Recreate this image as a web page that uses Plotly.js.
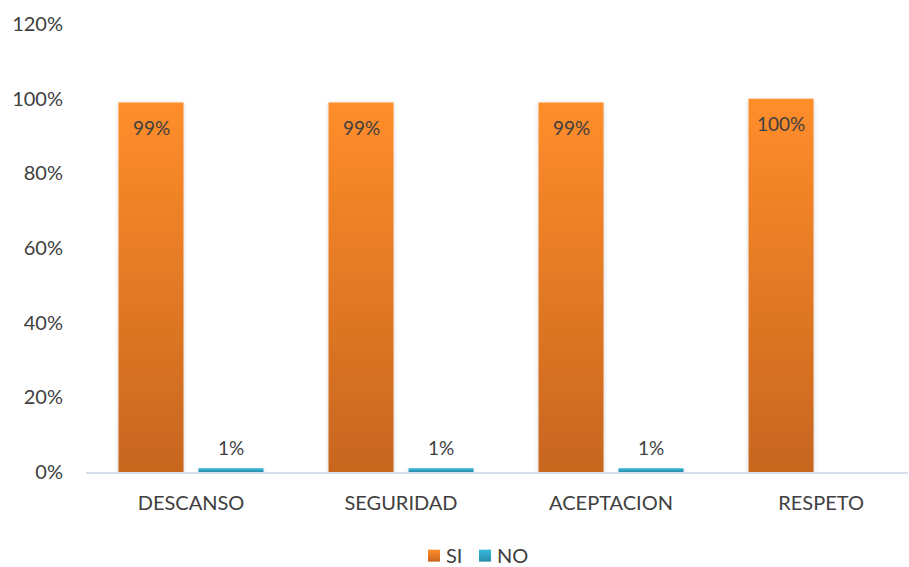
<!DOCTYPE html>
<html>
<head>
<meta charset="utf-8">
<script src="https://cdn.plot.ly/plotly-3.0.1.min.js"></script>
<style>body{margin:0;background:#fff;}#chart{width:909px;height:567px;}</style>
</head>
<body>
<div id="chart"></div>
<script>
const categories = ["DESCANSO", "SEGURIDAD", "ACEPTACION", "RESPETO"];
const siValues = [99, 99, 99, 100];
const noValues = [1, 1, 1, 0];
const siLabels = ["99%", "99%", "99%", "100%"];
const noLabels = ["1%", "1%", "1%", ""];
const yTicks = [0, 20, 40, 60, 80, 100, 120];
const yTickLabels = ["0%", "20%", "40%", "60%", "80%", "100%", "120%"];

const font = "Lato, 'Open Sans', sans-serif";
const textColor = "#404040";

const annotations = [];
categories.forEach((c, i) => {
  if (siLabels[i]) annotations.push({x: c, y: siValues[i], text: siLabels[i], showarrow: false,
    xshift: -40, yshift: -25, font: {family: font, size: 19, color: textColor}});
  if (noLabels[i]) annotations.push({x: c, y: noValues[i], text: noLabels[i], showarrow: false,
    xshift: 40, yshift: 21, font: {family: font, size: 19, color: textColor}});
});

const data = [
  {type: "bar", name: "SI", x: categories, y: siValues, marker: {color: "#E8791F"}, hoverinfo: "none"},
  {type: "bar", name: "NO", x: categories, y: noValues, marker: {color: "#2EA6C6"}, hoverinfo: "none"}
];

const layout = {
  width: 909, height: 567,
  margin: {l: 86, r: 1, t: 24, b: 95},
  paper_bgcolor: "#fff", plot_bgcolor: "#fff",
  barmode: "group", bargap: 0.238, bargroupgap: 0.1875,
  font: {family: font, color: textColor, size: 18},
  xaxis: {type: "category", range: [-0.5, 3.414], showline: true, linecolor: "#D6E0EC", linewidth: 2,
    showgrid: false, zeroline: false, ticks: "", ticklabelstandoff: 12, automargin: false,
    tickfont: {family: font, size: 20, color: textColor}},
  yaxis: {range: [0, 120], tickvals: yTicks, ticktext: yTickLabels, showgrid: false, zeroline: false,
    showline: false, ticks: "", ticklabelstandoff: 22, automargin: false,
    tickfont: {family: font, size: 20, color: textColor}},
  showlegend: true,
  legend: {orientation: "h", x: 0.5, xref: "container", xanchor: "center", y: 0.02, yref: "container", yanchor: "middle",
    font: {family: font, size: 20, color: textColor}, itemwidth: 30, tracegroupgap: 0},
  annotations: annotations
};

Plotly.newPlot("chart", data, layout, {staticPlot: true}).then(gd => {
  const svg = gd.querySelector(".main-svg");
  const ns = "http://www.w3.org/2000/svg";
  let defs = svg.querySelector("defs");
  if (!defs) { defs = document.createElementNS(ns, "defs"); svg.insertBefore(defs, svg.firstChild); }
  function grad(id, top, bottom) {
    const g = document.createElementNS(ns, "linearGradient");
    g.setAttribute("id", id); g.setAttribute("x1", "0"); g.setAttribute("y1", "0");
    g.setAttribute("x2", "0"); g.setAttribute("y2", "1");
    [[0, top], [1, bottom]].forEach(([o, c]) => {
      const s = document.createElementNS(ns, "stop");
      s.setAttribute("offset", o); s.setAttribute("stop-color", c); g.appendChild(s);
    });
    defs.appendChild(g);
  }
  grad("gSI", "#FF8D2B", "#C7661F");
  grad("gNO", "#36B8DC", "#2A8DAB");
  const f = document.createElementNS(ns, "filter");
  f.setAttribute("id", "shadow"); f.setAttribute("x", "-20%"); f.setAttribute("y", "-5%");
  f.setAttribute("width", "140%"); f.setAttribute("height", "110%");
  const ds = document.createElementNS(ns, "feDropShadow");
  ds.setAttribute("dx", "0"); ds.setAttribute("dy", "1"); ds.setAttribute("stdDeviation", "2");
  ds.setAttribute("flood-color", "#000"); ds.setAttribute("flood-opacity", "0.18");
  f.appendChild(ds); defs.appendChild(f);
  const traces = gd.querySelectorAll(".barlayer .trace");
  traces.forEach((t, i) => {
    t.querySelectorAll("path").forEach(p => {
      p.style.fill = i === 0 ? "url(#gSI)" : "url(#gNO)";
      p.setAttribute("filter", "url(#shadow)");
    });
  });
  // compact legend layout like the reference
  gd.querySelectorAll(".legend [clip-path]").forEach(el => el.removeAttribute("clip-path"));
  const swatchCenters = [434, 485];
  const textStarts = [446, 497];
  const legendItems = gd.querySelectorAll(".legend .traces");
  legendItems.forEach((t, i) => {
    const p = t.querySelector(".legendpoints path");
    const txt = t.querySelector("text.legendtext");
    if (p) {
      p.style.fill = i === 0 ? "url(#gSI)" : "url(#gNO)";
      p.style.stroke = "none";
      p.setAttribute("d", "M-6,-6H6V6H-6Z");
    }
    if (!p || !txt || i > 1) return;
    const r = p.getBoundingClientRect();
    const dx = swatchCenters[i] - (r.left + r.width / 2);
    const tr = t.getAttribute("transform") || "";
    const m = tr.match(/translate\(\s*([-\d.e]+)[ ,]*([-\d.e]*)\s*\)/);
    const tx = m ? parseFloat(m[1]) : 0, ty = m && m[2] ? parseFloat(m[2]) : 0;
    t.setAttribute("transform", "translate(" + (tx + dx) + "," + ty + ")");
    const tr2 = txt.getBoundingClientRect();
    const curX = parseFloat(txt.getAttribute("x") || "0");
    txt.setAttribute("x", curX + (textStarts[i] - tr2.left));
  });
});
</script>
</body>
</html>
